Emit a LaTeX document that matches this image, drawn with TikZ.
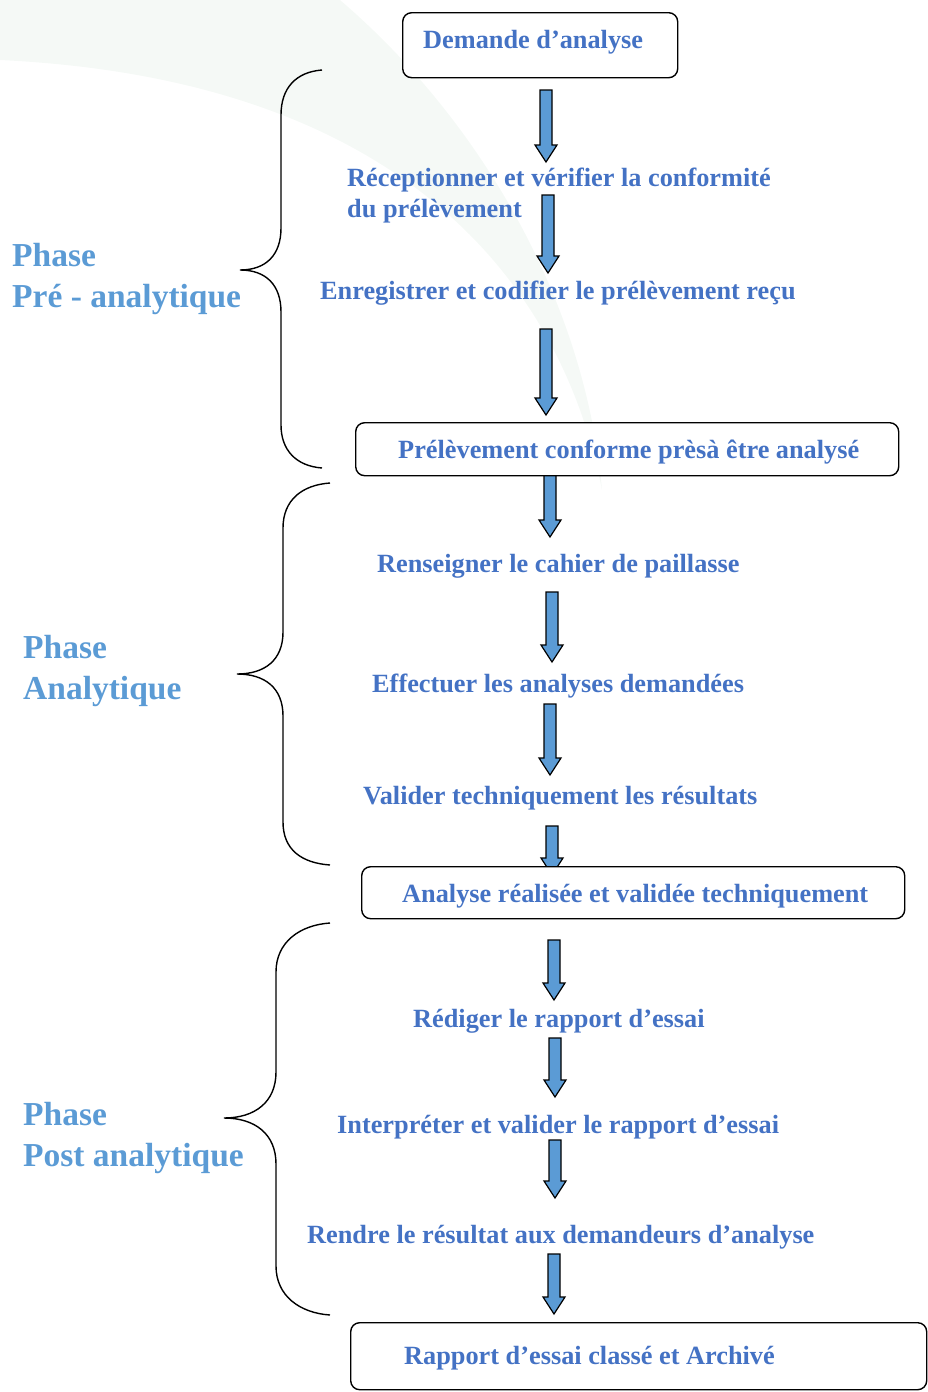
\documentclass[tikz,border=0pt]{standalone}
\usepackage{fontspec}
\setmainfont{Liberation Serif}
\definecolor{steptxt}{HTML}{4472C4}
\definecolor{phasetxt}{HTML}{5B9BD5}
\definecolor{arrowfill}{HTML}{5B9BD5}
\definecolor{bgband}{RGB}{245,249,246}
\tikzset{
  stepbox/.style={draw=black, line width=1.4pt, rounded corners=9pt, fill=white, inner sep=0pt, anchor=north west},
  steptext/.style={text=steptxt, font=\fontsize{26.3}{31}\selectfont\bfseries, inner sep=0pt, anchor=west, align=left},
  phasetext/.style={text=phasetxt, font=\fontsize{33.5}{41}\selectfont\bfseries, inner sep=0pt, anchor=west, align=left},
  blockarrow/.style={draw=black, line width=1.2pt, fill=arrowfill, line join=miter},
  bracestyle/.style={draw=black, line width=1.4pt}
}
\newcommand{\barrow}[3]{%
  \draw[blockarrow] (#1-6,#2) -- (#1+6,#2) -- (#1+6,#3-17) -- (#1+11,#3-17) -- (#1,#3) -- (#1-11,#3-17) -- (#1-6,#3-17) -- cycle;}
\begin{document}
\begin{tikzpicture}[x=1pt,y=-1pt]
\useasboundingbox (0,0) rectangle (927,1392);
% faint background band
\fill[bgband] (0,0) -- (340,0) .. controls (480,120) and (585,300) .. (602,490) .. controls (565,300) and (420,80) .. (0,60) -- cycle;

% braces
\draw[bracestyle] (322,70) .. controls (296,72) and (281,88) .. (281,115) -- (281,228) .. controls (281,255) and (266,270) .. (240,270) .. controls (266,270) and (281,285) .. (281,312) -- (281,425) .. controls (281,450) and (296,466) .. (322,468);
\draw[bracestyle] (330,483) .. controls (302,485) and (283,500) .. (283,528) -- (283,632) .. controls (283,660) and (265,674) .. (237,674) .. controls (265,674) and (283,688) .. (283,716) -- (283,822) .. controls (283,850) and (302,863) .. (330,865);
\draw[bracestyle] (330,923) .. controls (300,925) and (276,942) .. (276,972) -- (276,1072) .. controls (276,1102) and (255,1118) .. (224,1118) .. controls (255,1118) and (276,1134) .. (276,1164) -- (276,1266) .. controls (276,1296) and (300,1313) .. (330,1315);

% block arrows
\barrow{546}{90}{162}
\barrow{548}{195}{273}
\barrow{546}{329}{415}
\barrow{550}{470}{537}
\barrow{552}{592}{662}
\barrow{550}{704}{775}
\barrow{552}{826}{875}
\barrow{554}{940}{1000}
\barrow{555}{1038}{1097}
\barrow{555}{1140}{1198}
\barrow{554}{1254}{1314}

% boxes
\node[stepbox, minimum width=275pt, minimum height=65pt] (b1) at (402,12) {};
\node[stepbox, minimum width=543pt, minimum height=53pt] (b2) at (355,422) {};
\node[stepbox, minimum width=543pt, minimum height=52pt] (b3) at (361,866) {};
\node[stepbox, minimum width=576pt, minimum height=67pt] (b4) at (350,1322) {};

% step texts
\node[steptext] (t1) at (423,42) {Demande d’analyse};
\node[steptext] (t2) at (347,196) {Réceptionner et vérifier la conformité\\du prélèvement};
\node[steptext] (t3) at (320,293) {Enregistrer et codifier le prélèvement reçu};
\node[steptext] (t4) at (398,452) {Prélèvement conforme prèsà être analysé};
\node[steptext] (t5) at (377,566) {Renseigner le cahier de paillasse};
\node[steptext] (t6) at (372,686) {Effectuer les analyses demandées};
\node[steptext] (t7) at (363,798) {Valider techniquement les résultats};
\node[steptext] (t8) at (402,896) {Analyse réalisée et validée techniquement};
\node[steptext] (t9) at (413,1021) {Rédiger le rapport d’essai};
\node[steptext] (t10) at (337,1127) {Interpréter et valider le rapport d’essai};
\node[steptext] (t11) at (307,1237) {Rendre le résultat aux demandeurs d’analyse};
\node[steptext] (t12) at (404,1358) {Rapport d’essai classé et Archivé};

% phase labels
\node[phasetext] (p1) at (12,279) {Phase\\Pré - analytique};
\node[phasetext] (p2) at (23,671) {Phase\\Analytique};
\node[phasetext] (p3) at (23,1138) {Phase\\Post analytique};
\end{tikzpicture}
\end{document}
